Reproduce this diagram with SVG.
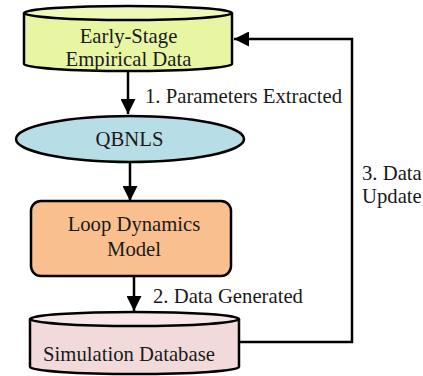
<svg xmlns="http://www.w3.org/2000/svg" width="423" height="376" viewBox="0 0 423 376">
  <style>
    .shape { stroke: #000; stroke-width: 2.5; }
    .line { fill: none; stroke: #000; stroke-width: 2.5; }
    .lbl { fill: #1a1a1a; font-family: 'Liberation Serif', 'Times New Roman', serif; font-size: 20.7px; }
    .mid { text-anchor: middle; }
  </style>
  <defs>
    <marker id="arrow" viewBox="0 0 10 10" refX="10" refY="5" markerWidth="15" markerHeight="15" markerUnits="userSpaceOnUse" orient="auto">
      <path d="M0,0 L10,5 L0,10 Z" fill="#000"/>
    </marker>
  </defs>

  <g id="connectors">
    <line class="line" x1="128" y1="71" x2="128" y2="114" marker-end="url(#arrow)"/>
    <line class="line" x1="130" y1="163" x2="130" y2="201" marker-end="url(#arrow)"/>
    <line class="line" x1="134" y1="277" x2="134" y2="311" marker-end="url(#arrow)"/>
    <polyline class="line" points="239,342 352,342 352,39 234,39" marker-end="url(#arrow)"/>
    <text class="lbl" x="145" y="103">1. Parameters Extracted</text>
    <text class="lbl" x="153" y="303">2. Data Generated</text>
    <text class="lbl" x="362" y="180">3. Data</text>
    <text class="lbl" x="362" y="203">Update</text>
  </g>

  <g id="empirical-data">
    <path class="shape" fill="#e8f5a3" d="M24,13 L24,64 A104,7 0 0 0 232,64 L232,13"/>
    <ellipse class="shape" fill="#eef8b8" cx="128" cy="13" rx="104" ry="7"/>
    <text class="lbl mid" x="128.5" y="43">Early-Stage</text>
    <text class="lbl mid" x="128.5" y="66">Empirical Data</text>
  </g>

  <g id="qbnls">
    <ellipse class="shape" fill="#b7dde7" cx="130" cy="139" rx="114" ry="23"/>
    <text class="lbl mid" x="129.5" y="146">QBNLS</text>
  </g>

  <g id="loop-dynamics-model">
    <rect class="shape" fill="#f9bf8f" x="31" y="201" width="200" height="75" rx="10"/>
    <text class="lbl mid" x="134" y="231">Loop Dynamics</text>
    <text class="lbl mid" x="134" y="256">Model</text>
  </g>

  <g id="simulation-database">
    <path class="shape" fill="#f2dada" d="M30,319 L30,367 A104.5,7 0 0 0 239,367 L239,319"/>
    <ellipse class="shape" fill="#f7e7e7" cx="134.5" cy="319" rx="104.5" ry="7"/>
    <text class="lbl mid" x="129" y="361">Simulation Database</text>
  </g>
</svg>
